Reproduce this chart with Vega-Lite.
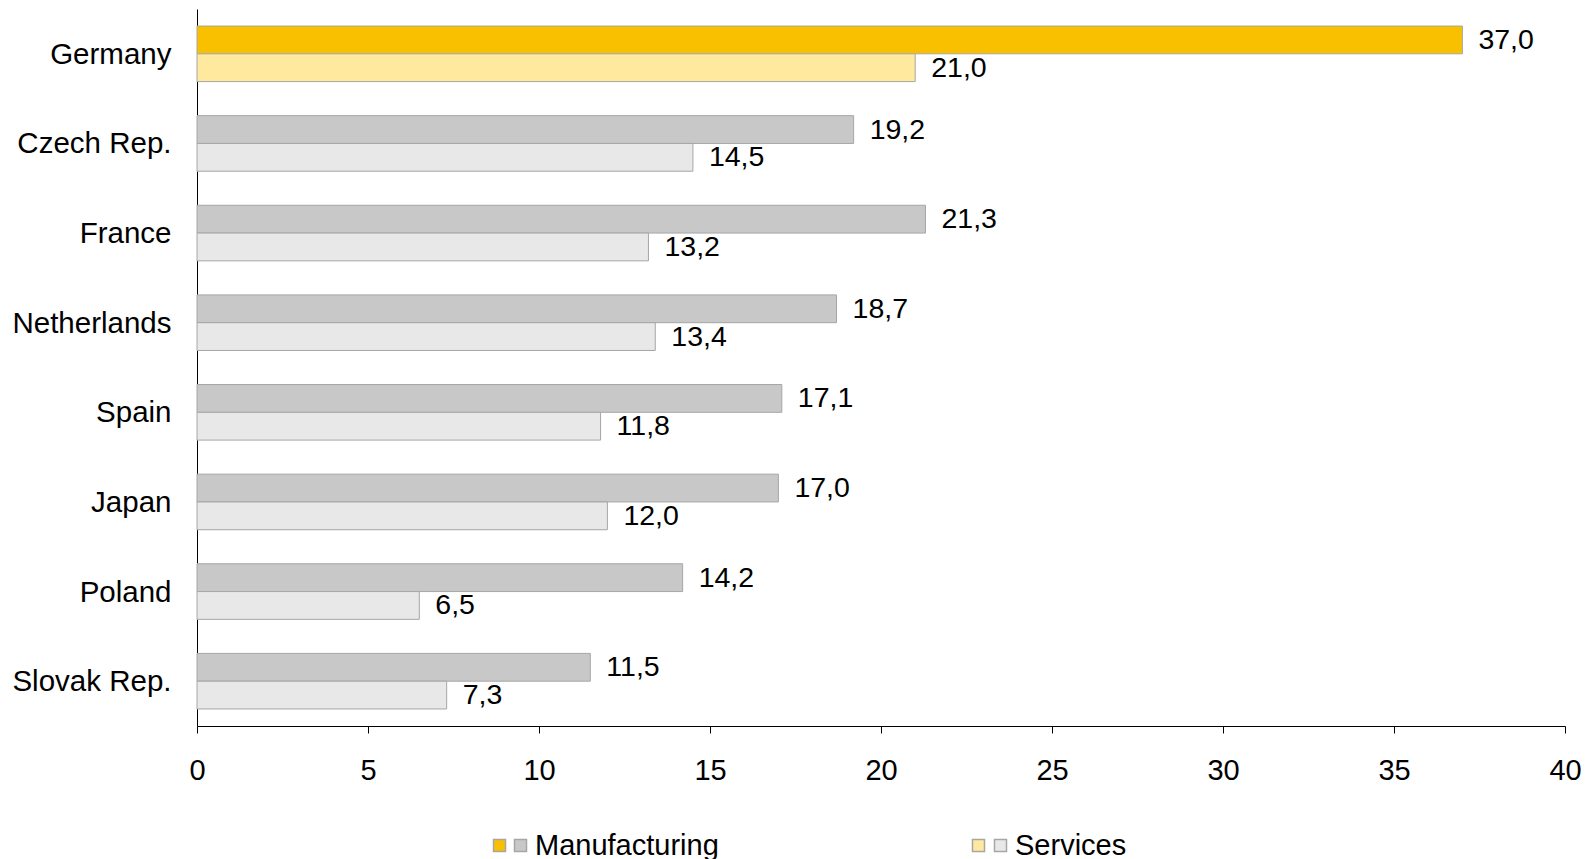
{
  "$schema": "https://vega.github.io/schema/vega-lite/v6.json",
  "autosize": {"type": "none"},
  "padding": {"left": 197, "top": 9, "right": 28, "bottom": 133},
  "width": 1368,
  "height": 717,
  "background": "white",
  "data": {
    "values": [
      {"country": "Germany", "series": "Manufacturing", "key": "DE-M", "value": 37.0},
      {"country": "Germany", "series": "Services", "key": "DE-S", "value": 21.0},
      {"country": "Czech Rep.", "series": "Manufacturing", "key": "M", "value": 19.2},
      {"country": "Czech Rep.", "series": "Services", "key": "S", "value": 14.5},
      {"country": "France", "series": "Manufacturing", "key": "M", "value": 21.3},
      {"country": "France", "series": "Services", "key": "S", "value": 13.2},
      {"country": "Netherlands", "series": "Manufacturing", "key": "M", "value": 18.7},
      {"country": "Netherlands", "series": "Services", "key": "S", "value": 13.4},
      {"country": "Spain", "series": "Manufacturing", "key": "M", "value": 17.1},
      {"country": "Spain", "series": "Services", "key": "S", "value": 11.8},
      {"country": "Japan", "series": "Manufacturing", "key": "M", "value": 17.0},
      {"country": "Japan", "series": "Services", "key": "S", "value": 12.0},
      {"country": "Poland", "series": "Manufacturing", "key": "M", "value": 14.2},
      {"country": "Poland", "series": "Services", "key": "S", "value": 6.5},
      {"country": "Slovak Rep.", "series": "Manufacturing", "key": "M", "value": 11.5},
      {"country": "Slovak Rep.", "series": "Services", "key": "S", "value": 7.3}
    ]
  },
  "encoding": {
    "y": {
      "field": "country", "type": "nominal",
      "sort": ["Germany", "Czech Rep.", "France", "Netherlands", "Spain", "Japan", "Poland", "Slovak Rep."],
      "scale": {"paddingInner": 0.38, "paddingOuter": 0.19},
      "axis": {"title": null, "ticks": false, "domain": true, "domainColor": "#000000", "domainWidth": 1, "labelPadding": 26, "labelFontSize": 29.5, "labelFont": "Liberation Sans", "labelColor": "#000000", "labelLimit": 400, "labelBaseline": "middle", "labelOffset": 1}
    },
    "yOffset": {
      "field": "series", "type": "nominal",
      "sort": ["Manufacturing", "Services"],
      "scale": {"domain": ["Manufacturing", "Services"], "paddingInner": 0, "paddingOuter": 0}
    },
    "x": {
      "field": "value", "type": "quantitative",
      "scale": {"domain": [0, 40], "nice": false},
      "axis": {"title": null, "grid": false, "values": [0, 5, 10, 15, 20, 25, 30, 35, 40], "format": "d", "domainColor": "#000000", "tickColor": "#000000", "tickSize": 7, "labelPadding": 23, "labelFontSize": 29, "labelFont": "Liberation Sans", "labelColor": "#000000", "labelFlush": false}
    }
  },
  "layer": [
    {
      "transform": [{"filter": "datum.key == 'DE-M'"}],
      "mark": {"type": "bar", "stroke": "#a6a6a6", "strokeWidth": 1},
      "encoding": {
        "color": {
          "field": "key", "type": "nominal",
          "scale": {"domain": ["DE-M"], "range": ["#F9C000"]},
          "legend": {
            "title": null, "orient": "none", "legendX": 288, "legendY": 822,
            "direction": "horizontal", "symbolType": "square", "symbolSize": 144,
            "labelFontSize": 29, "labelFont": "Liberation Sans", "labelColor": "#000000", "labelOffset": 0, "labelLimit": 2000,
            "labelExpr": "''",
            "encode": {"symbols": {"update": {"stroke": {"value": "#a6a6a6"}, "strokeWidth": {"value": 1}, "opacity": {"value": 1}}}}
          }
        }
      }
    },
    {
      "transform": [{"filter": "datum.key == 'M'"}],
      "mark": {"type": "bar", "stroke": "#a6a6a6", "strokeWidth": 1},
      "encoding": {
        "color": {
          "field": "key", "type": "nominal",
          "scale": {"domain": ["M"], "range": ["#C8C8C8"]},
          "legend": {
            "title": null, "orient": "none", "legendX": 309, "legendY": 822,
            "direction": "horizontal", "symbolType": "square", "symbolSize": 144,
            "labelFontSize": 29, "labelFont": "Liberation Sans", "labelColor": "#000000", "labelOffset": 0, "labelLimit": 2000,
            "labelExpr": "'Manufacturing'",
            "encode": {"symbols": {"update": {"stroke": {"value": "#a6a6a6"}, "strokeWidth": {"value": 1}, "opacity": {"value": 1}}}}
          }
        }
      }
    },
    {
      "transform": [{"filter": "datum.key == 'DE-S'"}],
      "mark": {"type": "bar", "stroke": "#a6a6a6", "strokeWidth": 1},
      "encoding": {
        "color": {
          "field": "key", "type": "nominal",
          "scale": {"domain": ["DE-S"], "range": ["#FFE99F"]},
          "legend": {
            "title": null, "orient": "none", "legendX": 767, "legendY": 822,
            "direction": "horizontal", "symbolType": "square", "symbolSize": 144,
            "labelFontSize": 29, "labelFont": "Liberation Sans", "labelColor": "#000000", "labelOffset": 0, "labelLimit": 2000,
            "labelExpr": "''",
            "encode": {"symbols": {"update": {"stroke": {"value": "#a6a6a6"}, "strokeWidth": {"value": 1}, "opacity": {"value": 1}}}}
          }
        }
      }
    },
    {
      "transform": [{"filter": "datum.key == 'S'"}],
      "mark": {"type": "bar", "stroke": "#a6a6a6", "strokeWidth": 1},
      "encoding": {
        "color": {
          "field": "key", "type": "nominal",
          "scale": {"domain": ["S"], "range": ["#E8E8E8"]},
          "legend": {
            "title": null, "orient": "none", "legendX": 789, "legendY": 822,
            "direction": "horizontal", "symbolType": "square", "symbolSize": 144,
            "labelFontSize": 29, "labelFont": "Liberation Sans", "labelColor": "#000000", "labelOffset": 0, "labelLimit": 2000,
            "labelExpr": "'Services'",
            "encode": {"symbols": {"update": {"stroke": {"value": "#a6a6a6"}, "strokeWidth": {"value": 1}, "opacity": {"value": 1}}}}
          }
        }
      }
    },
    {
      "mark": {"type": "text", "align": "left", "baseline": "middle", "dx": 16, "fontSize": 28.5, "font": "Liberation Sans", "color": "#000000"},
      "encoding": {
        "text": {"field": "value", "type": "quantitative", "format": ".1f"}
      }
    }
  ],
  "resolve": {"scale": {"color": "independent"}},
  "config": {
    "view": {"stroke": null},
    "locale": {"number": {"decimal": ",", "thousands": ".", "grouping": [3], "currency": ["", " €"]}}
  }
}
